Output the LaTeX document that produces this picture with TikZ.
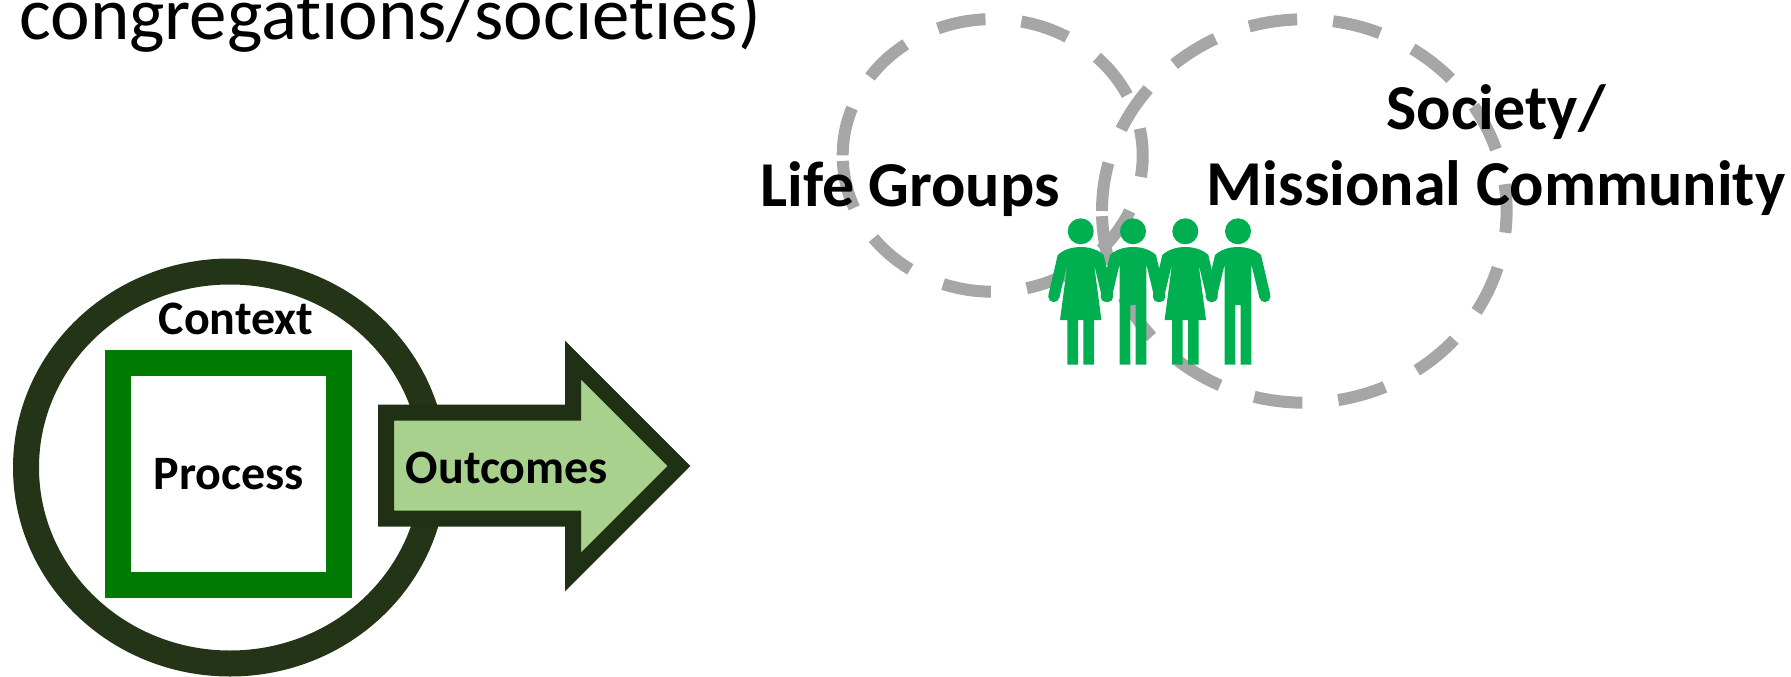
\documentclass[tikz,border=0pt]{standalone}
\usepackage{fontspec}
\setmainfont{Carlito}[Ligatures=NoCommon]
\usepackage{tikz}
\usetikzlibrary{shapes.geometric}
\definecolor{ringdark}{HTML}{243517}
\definecolor{arrowdark}{HTML}{1F3014}
\definecolor{arrowfill}{HTML}{A9D18E}
\definecolor{squaregreen}{HTML}{007A00}
\definecolor{dashgray}{HTML}{A6A6A6}
\definecolor{peoplegreen}{HTML}{00B050}

\begin{document}
\begin{tikzpicture}[
    x=0.5pt, y=0.5pt,
    dashring/.style={draw=dashgray, line width=6pt, dash pattern=on 24.3pt off 18pt},
    boldlabel/.style={font=\fontsize{32}{38}\selectfont\bfseries, inner sep=0pt, anchor=base},
    smalllabel/.style={font=\fontsize{24}{28}\selectfont\bfseries, inner sep=0pt, anchor=base},
    womanfig/.pic={
        \fill[peoplegreen] (0,0) circle (13);
        \fill[peoplegreen] (0,-15.7) .. controls (10,-15.7) and (18,-19) .. (23,-23.7)
            -- (32.4,-64) -- (21.4,-66.5) -- (13.3,-32.7) -- (20.7,-88.7) -- (-20.7,-88.7)
            -- (-13.3,-32.7) -- (-21.4,-66.5) -- (-32.4,-64) -- (-23,-23.7)
            .. controls (-18,-19) and (-10,-15.7) .. (0,-15.7) -- cycle;
        \fill[peoplegreen] (26.9,-65.3) circle (5.6) (-26.9,-65.3) circle (5.6);
        \fill[peoplegreen] (-13.3,-88) rectangle (-2.7,-133.3) (2.7,-88) rectangle (13.3,-133.3);
    },
    manfig/.pic={
        \fill[peoplegreen] (0,0) circle (13);
        \fill[peoplegreen] (0,-15.7) .. controls (10,-15.7) and (18,-19) .. (23,-23.7)
            -- (32.4,-64) -- (21.4,-66.5) -- (13.3,-32.7) -- (13.3,-133.3) -- (2.7,-133.3)
            -- (2.7,-73.7) -- (-2.7,-73.7) -- (-2.7,-133.3) -- (-13.3,-133.3) -- (-13.3,-32.7)
            -- (-21.4,-66.5) -- (-32.4,-64) -- (-23,-23.7)
            .. controls (-18,-19) and (-10,-15.7) .. (0,-15.7) -- cycle;
        \fill[peoplegreen] (26.9,-65.3) circle (5.6) (-26.9,-65.3) circle (5.6);
    },
    ]

    \useasboundingbox (0,0) rectangle (1791,676);

    \node[inner sep=0pt, anchor=base west, font=\fontsize{37.5}{44}\selectfont] (title) at (19,636) {congregations/societies)};

    % dashed rings
    \draw[dashring] (842.7,520.6) arc[start angle=180, end angle=-180, x radius=150, y radius=136.3];
    \draw[dashring] (1102,465) arc[start angle=180, end angle=-180, x radius=202.3, y radius=191.7];

    \node[boldlabel] (lifegroups) at (910,469.3) {Life Groups};
    \node[boldlabel, align=center, anchor=center] (society) at (1496,526) {Society/\\Missional Community};

    \pic at (1080.7,444.7) {womanfig};
    \pic at (1133,444.7) {manfig};
    \pic at (1185.3,444.7) {womanfig};
    \pic at (1238,444.7) {manfig};

    % context, process, outcomes
    \node[ellipse, draw=ringdark, line width=13pt, minimum width=204pt, minimum height=196pt, inner sep=0pt] (contextring) at (230,208.5) {};
    \node[smalllabel] (context) at (236,341.3) {Context};
    \node[draw=squaregreen, line width=13pt, minimum width=110.5pt, minimum height=111.2pt, inner sep=0pt, font=\fontsize{24}{28}\selectfont\bfseries] (process) at (228,202) {\raisebox{-2pt}{\hspace{1pt}Process}};

    \draw[draw=arrowdark, fill=arrowfill, line width=8pt, miter limit=10] (386,263.5) -- (573,263.5) -- (573,316) -- (679,210) -- (573,104) -- (573,157.5) -- (386,157.5) -- cycle;
    \node[smalllabel] (outcomes) at (507,192.3) {Outcomes};

\end{tikzpicture}
\end{document}
